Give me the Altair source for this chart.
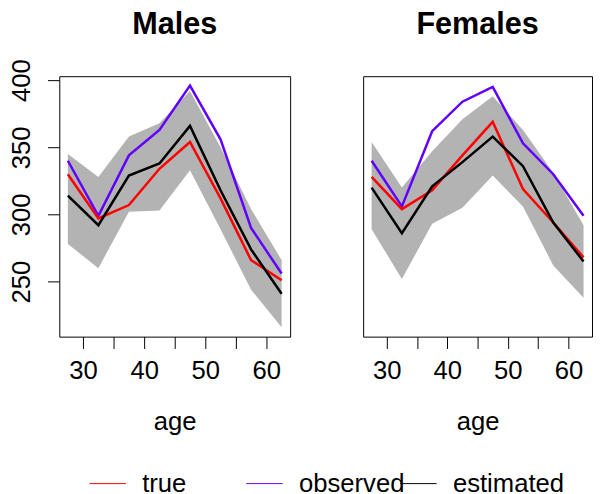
import altair as alt
import pandas as pd

ages = [27.5, 32.5, 37.5, 42.5, 47.5, 52.5, 57.5, 62.5]

male_true = [330, 297, 307, 334, 354, 312, 266, 251]
male_observed = [340, 299, 344, 363, 396, 356, 290, 256]
male_estimated = [314, 292, 329, 338, 366, 318, 274, 241]
male_lower = [278, 260, 302, 303, 333, 289, 244, 216]
male_upper = [345, 328, 358, 368, 392, 350, 304, 266]

female_true = [328, 304, 318, 344, 369, 319, 294, 268]
female_observed = [340, 306, 362, 384, 395, 353, 330, 299]
female_estimated = [320, 286, 321, 339, 358, 336, 294, 265]
female_lower = [289, 252, 293, 305, 329, 306, 262, 238]
female_upper = [354, 320, 347, 371, 388, 363, 331, 292]

series_names = ["true", "observed", "estimated"]
series_colors = {"true": "#FF0000", "observed": "#6000FF", "estimated": "#000000"}
legend_x = {"true": 30, "observed": 189, "estimated": 345}

band_rows = []
line_rows = []
for sex, tr, ob, es, lo, up in [
    ("Males", male_true, male_observed, male_estimated, male_lower, male_upper),
    ("Females", female_true, female_observed, female_estimated, female_lower, female_upper),
]:
    for i, a in enumerate(ages):
        band_rows.append({"sex": sex, "age": a, "lower": lo[i], "upper": up[i]})
        line_rows.append({"sex": sex, "age": a, "series": "true", "value": tr[i]})
        line_rows.append({"sex": sex, "age": a, "series": "observed", "value": ob[i]})
        line_rows.append({"sex": sex, "age": a, "series": "estimated", "value": es[i]})
band_df = pd.DataFrame(band_rows)
line_df = pd.DataFrame(line_rows)

FONT = "Liberation Sans"
xscale = alt.Scale(domain=[26.1, 63.9], nice=False, zero=False)
yscale = alt.Scale(domain=[209, 403], nice=False, zero=False)


def line_color(s, with_legend):
    if not with_legend:
        return alt.value(series_colors[s])
    return alt.Color(
        "series:N",
        scale=alt.Scale(domain=[s], range=[series_colors[s]]),
        legend=alt.Legend(
            title=None,
            orient="none",
            legendX=legend_x[s],
            legendY=394,
            symbolType="stroke",
            symbolStrokeWidth=1,
            symbolSize=1369,
            labelFontSize=26,
            labelFont=FONT,
            labelColor="black",
            labelOffset=16,
        ),
    )


def panel(sex, show_y, width, title_offset):
    xenc = alt.X(
        "age:Q",
        scale=xscale,
        axis=alt.Axis(
            values=[30, 35, 40, 45, 50, 55, 60],
            labelExpr="datum.value % 10 == 0 ? datum.label : ''",
            title="age",
        ),
    )
    if show_y:
        yaxis = alt.Axis(
            values=[250, 300, 350, 400],
            labelAngle=270,
            labelAlign="center",
            labelBaseline="alphabetic",
            labelPadding=18,
            title=None,
        )
    else:
        yaxis = None
    band = (
        alt.Chart(band_df)
        .transform_filter(alt.datum.sex == sex)
        .mark_area(color="#B3B3B3", opacity=1)
        .encode(
            x=xenc,
            y=alt.Y("lower:Q", scale=yscale, axis=yaxis, title=None),
            y2="upper:Q",
        )
    )
    layers = [band]
    for s in ["observed", "true", "estimated"]:
        layers.append(
            alt.Chart(line_df)
            .transform_filter((alt.datum.sex == sex) & (alt.datum.series == s))
            .mark_line(strokeWidth=2.5)
            .encode(
                x=xenc,
                y=alt.Y("value:Q", scale=yscale, axis=yaxis, title=None),
                color=line_color(s, show_y),
            )
        )
    lay = alt.layer(*layers).properties(
        width=width,
        height=264,
        title=alt.TitleParams(text=sex, frame="group", baseline="alphabetic", offset=title_offset),
    )
    if show_y:
        lay = lay.resolve_scale(color="independent")
    return lay


chart = (
    alt.hconcat(
        panel("Males", True, 234, -6),
        panel("Females", False, 232, 12),
        spacing=74,
        bounds="flush",
    )
    .properties(
        autosize=alt.AutoSizeParams(type="none"),
        padding={"left": 52, "top": 64, "right": 541, "bottom": 422},
    )
    .configure(font=FONT)
    .configure_view(stroke="black", strokeWidth=1)
    .configure_axis(
        grid=False,
        domain=False,
        tickColor="black",
        tickSize=12,
        tickWidth=1,
        labelFontSize=26,
        labelFont=FONT,
        labelColor="black",
        titleFontSize=26,
        titleFont=FONT,
        titleColor="black",
        titleFontWeight="normal",
    )
    .configure_axisX(labelPadding=9, titlePadding=26, labelFlush=False, labelOverlap=False)
    .configure_title(fontSize=31, font=FONT, fontWeight="bold", color="black", anchor="middle")
)

chart.save("out.html", embed_options={"renderer": "svg", "actions": False})
